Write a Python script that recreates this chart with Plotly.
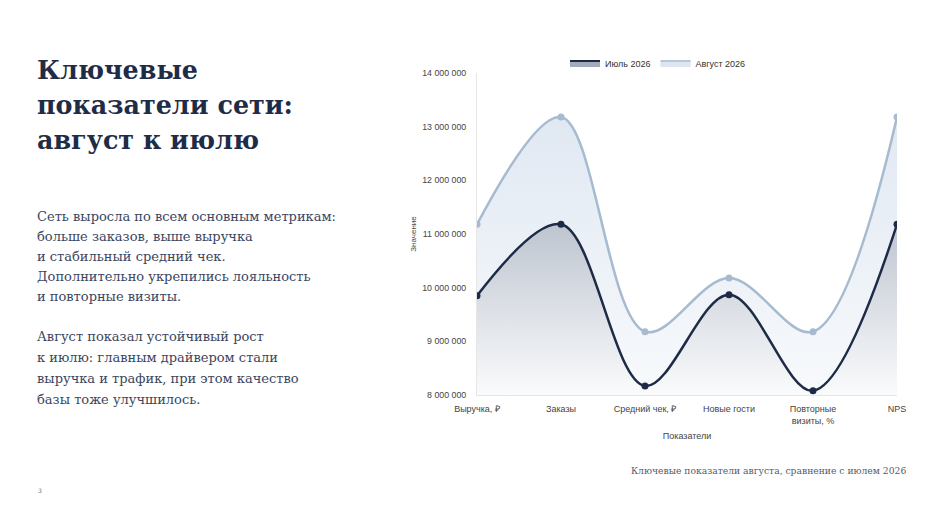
import plotly.graph_objects as go

categories = ["Выручка, ₽", "Заказы", "Средний чек, ₽", "Новые гости", "Повторные<br>визиты, %", "NPS"]
july_values = [9850000, 11180000, 8170000, 9870000, 8080000, 11180000]
august_values = [11180000, 13180000, 9180000, 10180000, 9180000, 13180000]
series_names = ["Июль 2026", "Август 2026"]
y_ticks = [8000000, 9000000, 10000000, 11000000, 12000000, 13000000, 14000000]

title_lines = ["Ключевые", "показатели сети:", "август к июлю"]
body_lines_1 = ["Сеть выросла по всем основным метрикам:", "больше заказов, выше выручка",
                "и стабильный средний чек.", "Дополнительно укрепились лояльность",
                "и повторные визиты."]
body_lines_2 = ["Август показал устойчивый рост", "к июлю: главным драйвером стали",
                "выручка и трафик, при этом качество", "базы тоже улучшилось."]
caption = "Ключевые показатели августа, сравнение с июлем 2026"
page_number = "3"

OFF = 8  # page body margin
W, H = 930 - 2 * OFF, 519 - 2 * OFF
L, R, T, B = 477 - OFF, 33 - OFF, 73 - OFF, 124 - OFF
PW, PH = W - L - R, H - T - B

def px(x):
    return (x - OFF - L) / PW

def py(y):
    return (H - B - (y - OFF)) / PH

x_idx = list(range(len(categories)))

fig = go.Figure()
fig.add_trace(go.Scatter(
    x=x_idx, y=july_values, name=series_names[0], mode="lines+markers", showlegend=False,
    line=dict(color="#1d2b47", width=2.5, shape="spline", smoothing=1.0),
    marker=dict(size=7, color="#1d2b47"),
    fill="tozeroy", fillcolor="rgba(165,173,189,0.9)",
    fillgradient=dict(type="vertical", start=8000000, stop=11200000,
                      colorscale=[[0, "rgb(250,251,252)"], [1, "rgb(190,197,208)"]]),
))
fig.add_trace(go.Scatter(
    x=x_idx, y=august_values, name=series_names[1], mode="lines+markers", showlegend=False,
    line=dict(color="#a6bad0", width=2.5, shape="spline", smoothing=1.0),
    marker=dict(size=7, color="#a6bad0"),
    fill="tonexty", fillcolor="rgba(220,229,240,0.9)",
    fillgradient=dict(type="vertical", start=8000000, stop=13200000,
                      colorscale=[[0, "rgb(248,250,252)"], [1, "rgb(224,232,242)"]]),
))
# legend entries (box symbols)
fig.add_trace(go.Scatter(x=[None], y=[None], name=series_names[0], mode="lines", fill="toself",
                         fillcolor="#a3acbd", line=dict(color="#1d2b47", width=2)))
fig.add_trace(go.Scatter(x=[None], y=[None], name=series_names[1], mode="lines", fill="toself",
                         fillcolor="#dde5f0", line=dict(color="#b7c7d9", width=2)))

serif = "DejaVu Serif"
sans = "Liberation Sans, Arial, sans-serif"
ann = []
for i, t in enumerate(title_lines):
    ann.append(dict(text=f"<b>{t}</b>", x=px(35), y=py(70 + i * 35), xanchor="left", yanchor="middle",
                    font=dict(family=serif, size=25.4, color="#1f2c47")))
for i, t in enumerate(body_lines_1):
    ann.append(dict(text=t, x=px(35), y=py(216 + i * 20.2), xanchor="left", yanchor="middle",
                    font=dict(family=serif, size=13, color="#3b4660")))
for i, t in enumerate(body_lines_2):
    ann.append(dict(text=t, x=px(35), y=py(336 + i * 21), xanchor="left", yanchor="middle",
                    font=dict(family=serif, size=13, color="#3b4660")))
ann.append(dict(text=caption, x=px(908), y=py(470), xanchor="right", yanchor="middle",
                font=dict(family=serif, size=9.2, color="#555b66")))
ann.append(dict(text=page_number, x=px(36), y=py(490), xanchor="left", yanchor="middle",
                font=dict(family=serif, size=6, color="#555b66")))
for a in ann:
    a.update(xref="paper", yref="paper", showarrow=False)

fig.update_layout(
    width=W, height=H, margin=dict(l=L, r=R, t=T, b=B),
    paper_bgcolor="white", plot_bgcolor="white",
    separators=". ",
    showlegend=True,
    legend=dict(orientation="h", x=px(658), y=py(63), xanchor="center", yanchor="middle",
                traceorder="normal",
                font=dict(family=sans, size=9, color="#333"), itemwidth=30,
                bgcolor="rgba(0,0,0,0)"),
    annotations=ann,
    xaxis=dict(tickmode="array", tickvals=x_idx, ticktext=categories, range=[0, 5],
               showgrid=False, zeroline=False, showline=True, linecolor="#e6e6e6", linewidth=1,
               ticks="", tickfont=dict(family=sans, size=9, color="#444"), ticklabelstandoff=5,
               title=dict(text="Показатели", font=dict(family=sans, size=9, color="#444"), standoff=8)),
    yaxis=dict(tickmode="array", tickvals=y_ticks, tickformat=",d", range=[8000000, 14000000],
               showgrid=False, zeroline=False, showline=True, linecolor="#e6e6e6", linewidth=1,
               ticks="", tickfont=dict(family=sans, size=8.8, color="#444"), ticklabelstandoff=8,
               title=dict(text="Значение", font=dict(family=sans, size=8, color="#444"), standoff=4)),
)

fig.write_html("out.html")
